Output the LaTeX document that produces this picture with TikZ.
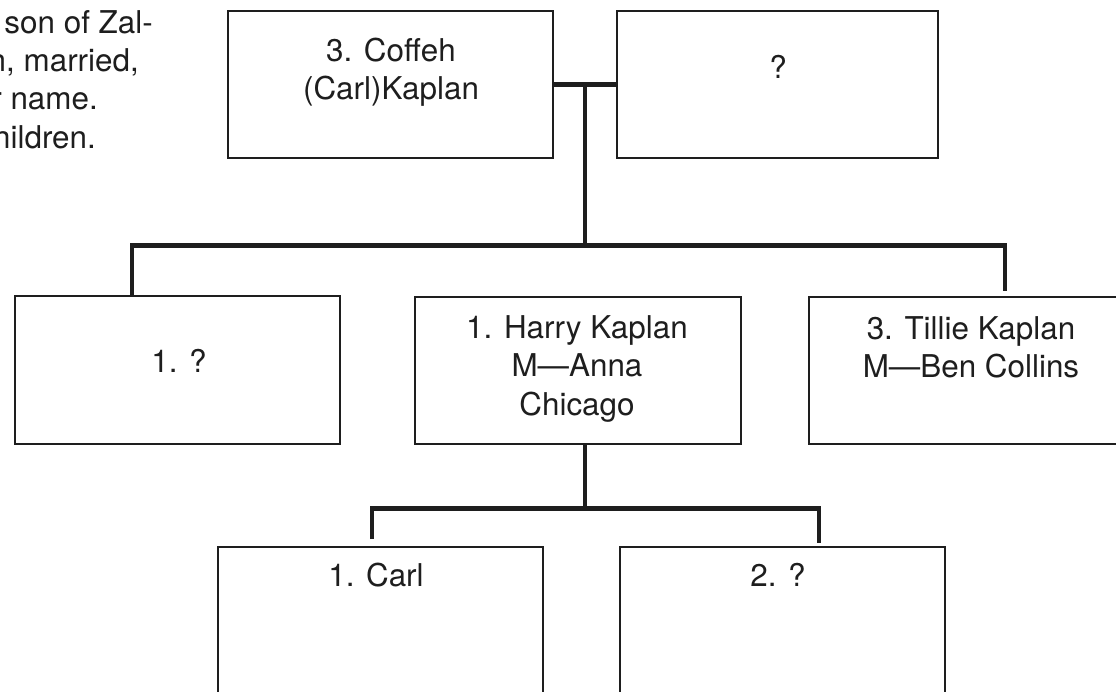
\documentclass[tikz,border=0pt]{standalone}
\usepackage{fontspec}
\setmainfont{TeX Gyre Heros}
\usetikzlibrary{calc}
\definecolor{ink}{HTML}{1E1E1E}
\begin{document}
\begin{tikzpicture}[x=1pt,y=-1pt,
  box/.style={draw=ink, line width=2pt, inner sep=0pt, anchor=north west,
              minimum width=325pt, minimum height=147pt},
  conn/.style={draw=ink, line width=4.7pt},
  txt/.style={inner sep=0pt, align=center, anchor=base, text=ink,
              font=\fontsize{31.4}{38.3}\selectfont},
  note/.style={inner sep=0pt, anchor=base east, text=ink,
              font=\fontsize{31.4}{38.3}\selectfont}]
\useasboundingbox (0,0) rectangle (1116,692);
\clip (0,0) rectangle (1116,692);
\fill[white] (0,0) rectangle (1116,692);

% boxes
\node[box] (coffeh) at (227,10) {};
\node[box, minimum width=321pt] (spouse) at (616,10) {};
\node[box, minimum height=148pt] (child1) at (14,295) {};
\node[box, minimum width=326pt, minimum height=146.5pt] (harry) at (414,296.5) {};
\node[box] (tillie) at (808,296) {};
\node[box, minimum height=200pt] (carl) at (217,546) {};
\node[box] (child2) at (619,546) {};

% connectors
\coordinate (top) at ($(coffeh.east)!0.5!(spouse.west)$);
\draw[conn] (coffeh.east) -- (spouse.west);
\coordinate (j1) at (132,245.5);
\coordinate (j2) at (1005,245.5);
\draw[conn] (top) -- (top |- j1);
\draw[conn] (child1.north -| j1) -- (j1) -- (j2) -- ([yshift=5pt]tillie.north -| j2);
\coordinate (k1) at (372,508.5);
\coordinate (k2) at (819,508.5);
\draw[conn] (harry.south -| top) -- (top |- k1);
\draw[conn] ([yshift=7pt]carl.north -| k1) -- (k1) -- (k2) -- ([yshift=3pt]child2.north -| k2);

% texts (anchor=base is the baseline of the last line)
\node[txt] (tcoffeh) at (391,100) {3. Coffeh\\(Carl)Kaplan};
\node[txt] (tspouse) at (778,79) {?};
\node[txt] (tchild1) at (179,372) {1. ?};
\node[txt] (tharry) at (577,415) {1. Harry Kaplan\\M—Anna\\Chicago};
\node[txt] (ttillie) at (971,377.5) {3. Tillie Kaplan\\M—Ben Collins};
\node[txt] (tcarl) at (376,586) {1. Carl};
\node[txt] (tchild2) at (778,586) {2. ?};

\node[note] (n1) at (153,33.3) {son of Zal-};
\node[note] (n2) at (139,71.7) {n, married,};
\node[note] (n3) at (98,110) {r name.};
\node[note] (n4) at (96,148.3) {hildren.};
\end{tikzpicture}
\end{document}
